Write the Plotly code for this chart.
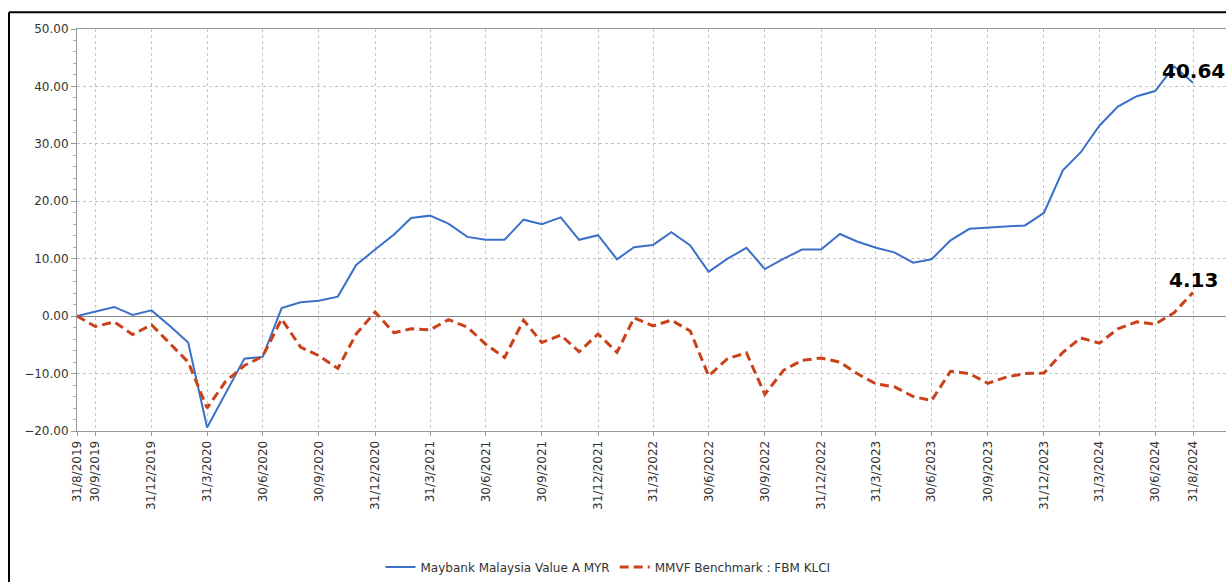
import pandas as pd
import plotly.graph_objects as go

dates = pd.date_range("2019-08-31", periods=61, freq="ME")

fund = [0.0, 0.8, 1.6, 0.2, 1.0, -1.8, -4.6, -19.4, -13.4, -7.4, -7.1, 1.4, 2.4, 2.7, 3.4, 8.9,
        11.6, 14.2, 17.1, 17.5, 16.1, 13.8, 13.3, 13.3, 16.8, 16.0, 17.2, 13.3, 14.1, 9.9, 12.0,
        12.4, 14.6, 12.3, 7.7, 10.0, 11.9, 8.2, 10.0, 11.6, 11.6, 14.3, 13.0, 11.9, 11.1, 9.3,
        9.9, 13.2, 15.2, 15.4, 15.7, 15.8, 18.0, 25.4, 28.5, 33.2, 36.5, 38.3, 39.2, 43.5, 40.64]

bench = [0.0, -1.8, -1.0, -3.2, -1.5, -4.8, -8.0, -16.0, -11.4, -8.6, -7.0, -0.5, -5.4, -6.9,
         -9.1, -3.1, 0.7, -2.9, -2.2, -2.4, -0.6, -1.9, -4.9, -7.2, -0.7, -4.6, -3.3, -6.2, -3.1,
         -6.3, -0.3, -1.7, -0.7, -2.6, -10.4, -7.4, -6.4, -13.6, -9.4, -7.7, -7.3, -8.0, -10.0,
         -11.8, -12.3, -14.0, -14.7, -9.6, -10.0, -11.7, -10.6, -10.0, -9.9, -6.3, -3.8, -4.7,
         -2.2, -1.0, -1.4, 0.6, 4.13]

tick_dates = ["2019-08-31", "2019-09-30", "2019-12-31", "2020-03-31", "2020-06-30", "2020-09-30",
              "2020-12-31", "2021-03-31", "2021-06-30", "2021-09-30", "2021-12-31", "2022-03-31",
              "2022-06-30", "2022-09-30", "2022-12-31", "2023-03-31", "2023-06-30", "2023-09-30",
              "2023-12-31", "2024-03-31", "2024-06-30", "2024-08-31"]
tick_text = ["31/8/2019", "30/9/2019", "31/12/2019", "31/3/2020", "30/6/2020", "30/9/2020",
             "31/12/2020", "31/3/2021", "30/6/2021", "30/9/2021", "31/12/2021", "31/3/2022",
             "30/6/2022", "30/9/2022", "31/12/2022", "31/3/2023", "30/6/2023", "30/9/2023",
             "31/12/2023", "31/3/2024", "30/6/2024", "31/8/2024"]

fund_name = "Maybank Malaysia Value A MYR"
bench_name = "MMVF Benchmark : FBM KLCI"

fig = go.Figure()
fig.add_trace(go.Scatter(x=dates, y=fund, mode="lines", name=fund_name,
                         line=dict(color="#3a70c8", width=2)))
fig.add_trace(go.Scatter(x=dates, y=bench, mode="lines", name=bench_name,
                         line=dict(color="#c9421a", width=3, dash="9px,5px")))

fig.add_annotation(x=dates[-1], y=fund[-1], text="<b>%.2f</b>" % fund[-1], showarrow=False,
                   yshift=12, font=dict(size=20, color="black", family="DejaVu Sans"))
fig.add_annotation(x=dates[-1], y=bench[-1], text="<b>%.2f</b>" % bench[-1], showarrow=False,
                   yshift=12, font=dict(size=20, color="black", family="DejaVu Sans"))

# figure placed at the page origin (body margin removed below)
W, H = 1226, 582
L, R, T, B = 77, 0, 29, 145
pw, ph = W - L - R, H - T - B
fx = lambda px: (px - L) / pw
fy = lambda py: (H - B - py) / ph

fig.add_shape(type="line", xref="paper", yref="paper", x0=fx(9), x1=fx(1240), y0=fy(12), y1=fy(12),
              line=dict(color="black", width=2))
fig.add_shape(type="line", xref="paper", yref="paper", x0=fx(9), x1=fx(9), y0=fy(12), y1=fy(600),
              line=dict(color="black", width=2))

fig.update_layout(
    width=W, height=H,
    margin=dict(l=L, r=R, t=T, b=B),
    paper_bgcolor="white", plot_bgcolor="white",
    font=dict(family="DejaVu Sans", size=12, color="#333333"),
    showlegend=True,
    legend=dict(orientation="h", x=fx(608), xanchor="center", y=fy(575), yanchor="middle",
                font=dict(size=12, color="#333333"), itemwidth=30),
    xaxis=dict(
        type="date",
        range=["2019-08-31", "2024-10-24"],
        tickvals=tick_dates, ticktext=tick_text, tickangle=-90,
        showgrid=True, gridcolor="#c4c4c4", griddash="dot", gridwidth=1,
        showline=True, linecolor="#999999", linewidth=1, mirror=True,
        ticks="outside", ticklen=4, tickcolor="#999999",
        tickfont=dict(size=12, color="#333333"),
        zeroline=False,
    ),
    yaxis=dict(
        range=[-20, 50], dtick=10, tickformat=".2f",
        showgrid=True, gridcolor="#c4c4c4", griddash="dot", gridwidth=1,
        showline=True, linecolor="#999999", linewidth=1, mirror=True,
        zeroline=True, zerolinecolor="#888888", zerolinewidth=1,
        ticks="outside", ticklen=5, tickcolor="#999999",
        minor=dict(dtick=2, ticks="outside", ticklen=3, tickcolor="#aaaaaa", showgrid=False),
        tickfont=dict(size=12, color="#333333"),
    ),
)

fig.write_html("out.html", config={"displayModeBar": False},
               post_script="document.body.style.margin='0px';document.body.style.overflow='hidden';")
